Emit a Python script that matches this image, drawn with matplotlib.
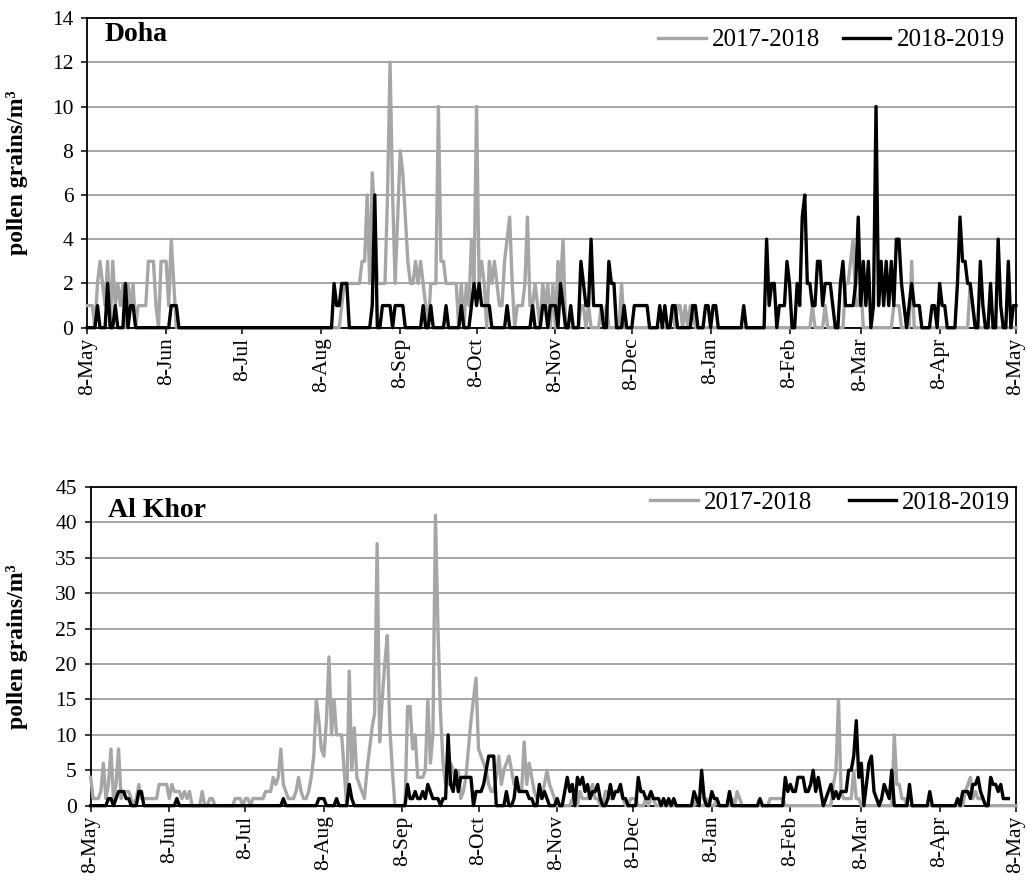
import numpy as np
import matplotlib.pyplot as plt

plt.rcParams['font.family'] = ['Liberation Serif', 'DejaVu Serif']

# daily counts, 8 May -> 8 May (366 days)
days = np.arange(np.datetime64('2017-05-08'), np.datetime64('2018-05-09'))
nan = np.nan

doha_1718 = [
    1, 1, 1, 0, 2, 3, 2, 1, 3, 0, 3, 1, 2, 1, 2, 0, 2, 1, 2, 0,
    1, 1, 1, 1, 3, 3, 3, 1, 0, 3, 3, 3, 1, 4, 2, 0, 0, 0, 0, 0,
    0, 0, 0, 0, 0, 0, 0, 0, 0, 0, 0, 0, 0, 0, 0, 0, 0, 0, 0, 0,
    0, 0, 0, 0, 0, 0, 0, 0, 0, 0, 0, 0, 0, 0, 0, 0, 0, 0, 0, 0,
    0, 0, 0, 0, 0, 0, 0, 0, 0, 0, 0, 0, 0, 0, 0, 0, 0, 0, 0, 0,
    1, 2, 2, 2, 2, 2, 2, 2, 3, 3, 6, 2, 7, 5, 2, 2, 2, 2, 6, 12,
    6, 2, 5, 8, 7, 5, 3, 2, 2, 3, 2, 3, 2, 1, 0, 2, 2, 2, 10, 3,
    3, 2, 2, 2, 2, 2, 0, 2, 0, 2, 1, 4, 2, 10, 2, 3, 2, 0, 3, 2,
    3, 2, 1, 1, 3, 4, 5, 2, 0, 1, 1, 1, 2, 5, 1, 1, 2, 1, 0, 2,
    1, 2, 0, 2, 0, 3, 2, 4, 0, 0, 0, 0, 0, 0, 1, 1, 0, 1, 0, 0,
    0, 0, 1, 0, 1, 0, 0, 0, 0, 0, 2, 0, 0, 0, 0, 0, 0, 0, 0, 0,
    0, 0, 0, 0, 0, 0, 0, 0, 0, 0, 1, 0, 1, 1, 0, 1, 0, 1, 1, 0,
    0, 0, 0, 0, 0, 0, 0, 0, 0, 0, 0, 0, 0, 0, 0, 0, 0, 0, 0, 0,
    0, 0, 0, 0, 0, 0, 0, 0, 0, 0, 0, 0, 0, 0, 0, 0, 0, 0, 0, 0,
    0, 0, 0, 0, 0, 1, 0, 0, 0, 0, 1, 0, 0, 0, 0, 0, 0, 0, 2, 2,
    3, 4, 1, 1, 2, 0, 0, 0, 0, 0, 0, 0, 0, 0, 0, 0, 0, 1, 1, 1,
    0, 0, 0, 0, 3, 0, 0, 0, 0, 0, 0, 0, 0, 0, 0, 0, 0, 0, 0, 0,
    0, 0, 0, 0, 0, 0, 0, 2, 1, 0, 0, 0, 0, 0, 0, 0, 0, 0, 0, 0,
    0, 0, 0, 0, 0, 0,
]

doha_1819 = [
    0, 0, 0, 0, 1, 0, 0, 0, 2, 0, 0, 1, 0, 0, 0, 2, 0, 1, 1, 0,
    0, 0, 0, 0, 0, 0, 0, 0, 0, 0, 0, 0, 0, 1, 1, 1, 0, 0, 0, 0,
    0, 0, 0, 0, 0, 0, 0, 0, 0, 0, 0, 0, 0, 0, 0, 0, 0, 0, 0, 0,
    0, 0, 0, 0, 0, 0, 0, 0, 0, 0, 0, 0, 0, 0, 0, 0, 0, 0, 0, 0,
    0, 0, 0, 0, 0, 0, 0, 0, 0, 0, 0, 0, 0, 0, 0, 0, 0, 2, 1, 1,
    2, 2, 2, 0, 0, 0, 0, 0, 0, 0, 0, 0, 1, 6, 0, 0, 1, 1, 1, 1,
    0, 1, 1, 1, 1, 0, 0, 0, 0, 0, 0, 0, 1, 0, 0, 1, 0, 0, 0, 0,
    0, 1, 0, 0, 0, 0, 0, 1, 0, 0, 0, 1, 2, 1, 2, 1, 1, 1, 1, 0,
    0, 0, 0, 0, 0, 1, 0, 0, 0, 0, 0, 0, 0, 0, 0, 1, 0, 0, 0, 1,
    1, 0, 1, 1, 1, 0, 2, 1, 0, 0, 1, 0, 0, 0, 3, 2, 1, 1, 4, 1,
    1, 1, 1, 0, 0, 3, 2, 2, 0, 0, 0, 1, 0, 0, 0, 1, 1, 1, 1, 1,
    1, 0, 0, 0, 0, 1, 0, 1, 0, 0, 1, 1, 0, 0, 0, 0, 0, 0, 1, 1,
    0, 0, 0, 1, 1, 0, 1, 1, 0, 0, 0, 0, 0, 0, 0, 0, 0, 0, 1, 0,
    0, 0, 0, 0, 0, 0, 0, 4, 1, 2, 2, 0, 1, 1, 1, 3, 2, 0, 0, 2,
    1, 5, 6, 2, 2, 1, 1, 3, 3, 1, 2, 2, 2, 1, 0, 0, 2, 3, 1, 1,
    1, 1, 2, 5, 1, 3, 1, 3, 0, 1, 10, 1, 3, 1, 3, 1, 3, 1, 4, 4,
    2, 1, 0, 1, 2, 1, 1, 1, 0, 0, 0, 0, 1, 1, 0, 2, 1, 1, 0, 0,
    0, 0, 2, 5, 3, 3, 2, 2, 1, 0, 0, 3, 1, 0, 0, 2, 0, 0, 4, 1,
    0, 0, 3, 0, 1, 1,
]

khor_1718 = [
    4, 1, 1, 1, 2, 6, 1, 3, 8, 1, 3, 8, 1, 2, 2, 2, 1, 0, 1, 3,
    1, 1, 1, 1, 1, 1, 1, 3, 3, 3, 3, 1, 3, 2, 2, 2, 1, 2, 1, 2,
    0, 0, 0, 0, 2, 0, 0, 1, 1, 0, 0, 0, 0, 0, 0, 0, 0, 1, 1, 1,
    0, 1, 1, 0, 1, 1, 1, 1, 1, 2, 2, 2, 4, 3, 4, 8, 3, 2, 1, 1,
    1, 2, 4, 2, 1, 1, 2, 4, 7, 15, 12, 8, 7, 12, 21, 10, 15, 10, 10, 10,
    5, 0, 19, 5, 11, 4, 3, 2, 1, 5, 8, 11, 13, 37, 9, 15, 20, 24, 11, 5,
    0, 0, 0, 0, 0, 14, 14, 8, 10, 4, 4, 4, 5, 15, 6, 10, 41, 25, 13, 6,
    3, 3, 6, 5, 3, 5, 1, 2, 4, 8, 12, 15, 18, 8, 7, 6, 5, 3, 2, 2,
    4, 7, 3, 5, 6, 7, 5, 3, 3, 2, 2, 9, 3, 6, 4, 2, 1, 2, 1, 3,
    5, 3, 2, 1, 0, 0, 0, 0, 0, 0, 1, 0, 0, 2, 1, 1, 1, 2, 3, 1,
    1, 0, 0, 2, 2, 1, 1, 2, 2, 2, 1, 0, 0, 1, 1, 1, 0, 0, 0, 1,
    0, 1, 1, 0, 0, 0, 0, 0, 0, 0, 0, 0, 0, 0, 0, 0, 0, 0, 0, 1,
    0, 0, 0, 1, 0, 0, 0, 1, 0, 0, 0, 0, 0, 1, 0, 2, 1, 0, 0, 0,
    0, 0, 0, 0, 0, 0, 0, 0, 1, 1, 1, 1, 1, 1, 0, 0, 0, 0, 0, 0,
    0, 0, 0, 0, 0, 0, 0, 0, 0, 0, 0, 0, 0, 3, 5, 15, 2, 1, 1, 1,
    1, 5, 1, 1, 0, 0, 0, 0, 0, 0, 0, 0, 0, 0, 0, 0, 0, 10, 3, 3,
    1, 1, 0, 0, 0, 0, 0, 0, 0, 0, 0, 0, 0, 0, 0, 0, 0, 0, 0, 0,
    0, 0, 0, 0, 0, 2, 3, 4, 1, 2, 1, 1, 1, 0, 0, 0, 0, 0, 0, 0,
    0, 0, 0, 0, 0, 0,
]

khor_1819 = [
    0, 0, 0, 0, 0, 0, 0, 1, 1, 0, 1, 2, 2, 2, 1, 1, 0, 0, 0, 2,
    2, 0, 0, 0, 0, 0, 0, 0, 0, 0, 0, 0, 0, 0, 1, 0, 0, 0, 0, 0,
    0, 0, 0, 0, 0, 0, 0, 0, 0, 0, 0, 0, 0, 0, 0, 0, 0, 0, 0, 0,
    0, 0, 0, 0, 0, 0, 0, 0, 0, 0, 0, 0, 0, 0, 0, 0, 1, 0, 0, 0,
    0, 0, 0, 0, 0, 0, 0, 0, 0, 0, 1, 1, 1, 0, 0, 0, 0, 1, 0, 0,
    0, 0, 3, 1, 0, 0, 0, 0, 0, 0, 0, 0, 0, 0, 0, 0, 0, 0, 0, 0,
    0, 0, 0, 0, 0, 3, 1, 1, 2, 1, 1, 2, 1, 3, 2, 1, 1, 1, 0, 1,
    1, 10, 3, 2, 5, 2, 4, 4, 4, 4, 4, 0, 2, 2, 2, 3, 5, 7, 7, 7,
    0, 0, 0, 0, 2, 0, 0, 1, 4, 2, 2, 2, 2, 1, 1, 0, 0, 3, 1, 2,
    1, 0, 0, 0, 1, 0, 0, 2, 4, 2, 3, 0, 4, 3, 4, 2, 3, 1, 2, 2,
    3, 1, 0, 0, 1, 3, 1, 2, 2, 3, 1, 1, 0, 0, 0, 0, 4, 2, 2, 1,
    1, 2, 1, 1, 1, 0, 1, 0, 1, 0, 1, 0, 0, 0, 0, 0, 0, 0, 2, 1,
    0, 5, 1, 0, 0, 2, 1, 1, 0, 0, 0, 0, 2, 0, 0, 0, 0, 0, 0, 0,
    0, 0, 0, 0, 1, 0, 0, 0, 0, 0, 0, 0, 0, 0, 4, 2, 3, 2, 2, 4,
    4, 4, 2, 2, 3, 5, 2, 4, 2, 0, 1, 2, 3, 1, 2, 1, 2, 2, 2, 5,
    5, 7, 12, 4, 6, 0, 3, 6, 7, 2, 1, 0, 1, 3, 2, 1, 5, 0, 0, 0,
    0, 0, 0, 3, 0, 0, 0, 0, 0, 0, 0, 2, 0, 0, 0, 0, 0, 0, 0, 0,
    0, 0, 1, 0, 2, 2, 2, 1, 3, 3, 4, 2, 1, 0, 0, 4, 3, 3, 2, 3,
    1, 1, 1, nan, nan, nan,
]

tick_dates = np.array(['2017-05-08', '2017-06-08', '2017-07-08', '2017-08-08',
                       '2017-09-08', '2017-10-08', '2017-11-08', '2017-12-08',
                       '2018-01-08', '2018-02-08', '2018-03-08', '2018-04-08',
                       '2018-05-08'], dtype='datetime64[D]')
tick_labels = ['8-May', '8-Jun', '8-Jul', '8-Aug', '8-Sep', '8-Oct', '8-Nov',
               '8-Dec', '8-Jan', '8-Feb', '8-Mar', '8-Apr', '8-May']

GREY = '#a6a6a6'


def panel(ax, first, second, ymax, step, name, name_y, leg_xy, colsp):
    ax.plot(days, first, color=GREY, lw=2.4, solid_joinstyle='round',
            clip_on=False, zorder=3, label='2017-2018')
    ax.plot(days, second, color='black', lw=2.4, solid_joinstyle='round',
            clip_on=False, zorder=4, label='2018-2019')
    ax.set_xlim(days[0], days[-1])
    ax.set_ylim(0, ymax)
    ax.set_yticks(np.arange(0, ymax + 1, step))
    ax.grid(axis='y', color=GREY, lw=1.4)
    ax.set_axisbelow(True)
    ax.set_xticks(tick_dates)
    ax.set_xticklabels(tick_labels, rotation=90)
    ax.tick_params(axis='both', labelsize=15.5, length=4, width=1.1, direction='out')
    ax.tick_params(axis='x', pad=3)
    ax.tick_params(axis='y', pad=6)
    for s in ax.spines.values():
        s.set_linewidth(1.3)
        s.set_color('black')
    ax.text(0.019, name_y, name, transform=ax.transAxes, fontsize=20,
            fontweight='bold', va='center', ha='left')
    ax.set_ylabel('pollen grains/m³', fontsize=17, fontweight='bold')
    ax.legend(loc='center right', bbox_to_anchor=leg_xy, ncol=2, frameon=False,
              fontsize=18, handlelength=1.9, handletextpad=0.25,
              columnspacing=colsp, borderpad=0, borderaxespad=0)


fig = plt.figure(figsize=(10.28, 8.84), dpi=100)
ax1 = fig.add_axes([0.0849, 0.6293, 0.9034, 0.3503])
ax2 = fig.add_axes([0.0882, 0.0886, 0.9001, 0.3605])

panel(ax1, doha_1718, doha_1819, 14, 2, 'Doha', 0.948, (0.988, 0.929), 0.9)
panel(ax2, khor_1718, khor_1819, 45, 5, 'Al Khor', 0.925, (0.994, 0.95), 1.45)
ax1.yaxis.set_label_coords(-0.064, 0.5)
ax2.yaxis.set_label_coords(-0.068, 0.5)

plt.savefig('out.png', dpi=100)
